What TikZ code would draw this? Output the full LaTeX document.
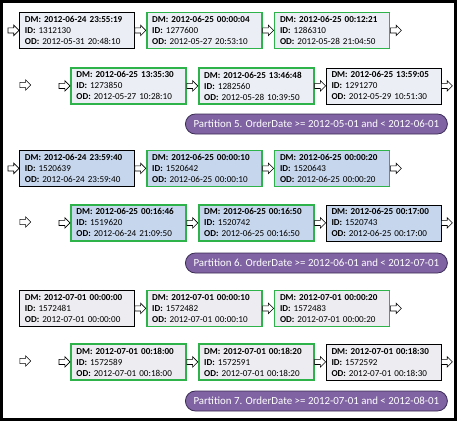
\documentclass[tikz,border=0pt]{standalone}
\usepackage{fontspec}
\setmainfont{Carlito}
\usetikzlibrary{positioning, shapes.arrows}

\definecolor{p5fill}{HTML}{EBEEF4}
\definecolor{p6fill}{HTML}{C6D6EC}
\definecolor{p7fill}{HTML}{EDEDF1}
\definecolor{okgreen}{HTML}{2DB34A}
\definecolor{partfill}{HTML}{7F63A2}
\definecolor{partdraw}{HTML}{3B2D55}

\newcommand{\rowrec}[3]{\textbf{DM: #1}\\\textbf{ID:} #2\\\textbf{OD:} #3}

\begin{document}
\begin{tikzpicture}[x=1pt, y=-1pt,
  rec/.style={draw=black, line width=0.8pt, text width=104pt, inner xsep=5.5pt,
    minimum height=36pt, align=left, font=\fontsize{9.1}{11}\selectfont},
  moved/.style={draw=okgreen, line width=1.8pt},
  flow/.style={single arrow, draw=black, fill=white, line width=0.6pt,
    minimum height=11pt, inner sep=0pt, inner ysep=2.3pt,
    single arrow head extend=2.6pt, outer sep=0pt},
  part/.style={draw=partdraw, fill=partfill, line width=0.8pt, text=white,
    minimum width=262pt, minimum height=20pt, rounded corners=10pt,
    font=\fontsize{10.9}{12}\selectfont}]

\useasboundingbox (0,0) rectangle (457,421);
\draw[line width=3pt] (1.5,1.5) rectangle (455.5,419.5);

% --- Partition 5 ---
\node[rec, fill=p5fill, anchor=north west] (r1a) at (19,12) {\rowrec{2012-06-24 23:55:19}{1312130}{2012-05-31 20:48:10}};
\node[flow, left=0pt of r1a] (f1a) {};
\node[flow, right=0pt of r1a] (f1b) {};
\node[rec, fill=p5fill, moved, right=0pt of f1b] (r1b) {\rowrec{2012-06-25 00:00:04}{1277600}{2012-05-27 20:53:10}};
\node[flow, right=0pt of r1b] (f1c) {};
\node[rec, fill=p5fill, moved, right=0pt of f1c] (r1c) {\rowrec{2012-06-25 00:12:21}{1286310}{2012-05-28 21:04:50}};
\node[flow, right=0pt of r1c] (f1d) {};

\node[flow] (f2x) at (24,85) {};
\node[rec, fill=p5fill, moved, anchor=north west] (r2a) at (70,67) {\rowrec{2012-06-25 13:35:30}{1273850}{2012-05-27 10:28:10}};
\node[flow, left=0pt of r2a] (f2a) {};
\node[flow, right=0pt of r2a] (f2b) {};
\node[rec, fill=p5fill, moved, right=0pt of f2b] (r2b) {\rowrec{2012-06-25 13:46:48}{1282560}{2012-05-28 10:39:50}};
\node[flow, right=0pt of r2b] (f2c) {};
\node[rec, fill=p5fill, right=0pt of f2c] (r2c) {\rowrec{2012-06-25 13:59:05}{1291270}{2012-05-29 10:51:30}};
\node[flow, right=0pt of r2c] (f2d) {};

\node[part, anchor=west] (p5) at (185,124) {Partition 5. OrderDate >= 2012-05-01 and < 2012-06-01};

% --- Partition 6 ---
\node[rec, fill=p6fill, anchor=north west] (r3a) at (19,150) {\rowrec{2012-06-24 23:59:40}{1520639}{2012-06-24 23:59:40}};
\node[flow, left=0pt of r3a] (f3a) {};
\node[flow, right=0pt of r3a] (f3b) {};
\node[rec, fill=p6fill, moved, right=0pt of f3b] (r3b) {\rowrec{2012-06-25 00:00:10}{1520642}{2012-06-25 00:00:10}};
\node[flow, right=0pt of r3b] (f3c) {};
\node[rec, fill=p6fill, moved, right=0pt of f3c] (r3c) {\rowrec{2012-06-25 00:00:20}{1520643}{2012-06-25 00:00:20}};
\node[flow, right=0pt of r3c] (f3d) {};

\node[flow] (f4x) at (24,222) {};
\node[rec, fill=p6fill, moved, anchor=north west] (r4a) at (70,204) {\rowrec{2012-06-25 00:16:46}{1519620}{2012-06-24 21:09:50}};
\node[flow, left=0pt of r4a] (f4a) {};
\node[flow, right=0pt of r4a] (f4b) {};
\node[rec, fill=p6fill, moved, right=0pt of f4b] (r4b) {\rowrec{2012-06-25 00:16:50}{1520742}{2012-06-25 00:16:50}};
\node[flow, right=0pt of r4b] (f4c) {};
\node[rec, fill=p6fill, right=0pt of f4c] (r4c) {\rowrec{2012-06-25 00:17:00}{1520743}{2012-06-25 00:17:00}};
\node[flow, right=0pt of r4c] (f4d) {};

\node[part, anchor=west] (p6) at (185,263) {Partition 6. OrderDate >= 2012-06-01 and < 2012-07-01};

% --- Partition 7 ---
\node[rec, fill=p7fill, anchor=north west] (r5a) at (19,290) {\rowrec{2012-07-01 00:00:00}{1572481}{2012-07-01 00:00:00}};
\node[flow, right=0pt of r5a] (f5b) {};
\node[rec, fill=p7fill, moved, right=0pt of f5b] (r5b) {\rowrec{2012-07-01 00:00:10}{1572482}{2012-07-01 00:00:10}};
\node[flow, right=0pt of r5b] (f5c) {};
\node[rec, fill=p7fill, moved, right=0pt of f5c] (r5c) {\rowrec{2012-07-01 00:00:20}{1572483}{2012-07-01 00:00:20}};
\node[flow, right=0pt of r5c] (f5d) {};

\node[flow] (f6x) at (24,361) {};
\node[rec, fill=p7fill, moved, anchor=north west] (r6a) at (70,343) {\rowrec{2012-07-01 00:18:00}{1572589}{2012-07-01 00:18:00}};
\node[flow, left=0pt of r6a] (f6a) {};
\node[flow, right=0pt of r6a] (f6b) {};
\node[rec, fill=p7fill, moved, right=0pt of f6b] (r6b) {\rowrec{2012-07-01 00:18:20}{1572591}{2012-07-01 00:18:20}};
\node[flow, right=0pt of r6b] (f6c) {};
\node[rec, fill=p7fill, right=0pt of f6c] (r6c) {\rowrec{2012-07-01 00:18:30}{1572592}{2012-07-01 00:18:30}};
\node[flow, right=0pt of r6c] (f6d) {};

\node[part, anchor=west] (p7) at (185,401) {Partition 7. OrderDate >= 2012-07-01 and < 2012-08-01};

\end{tikzpicture}
\end{document}
